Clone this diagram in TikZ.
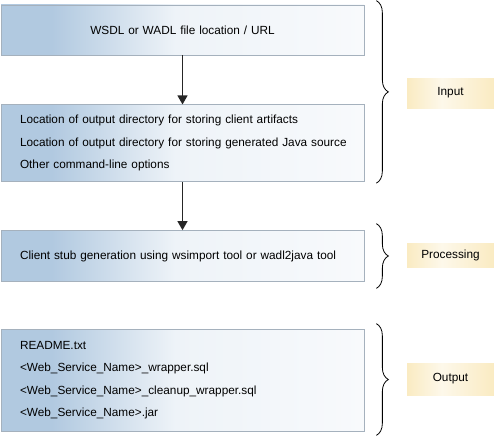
\documentclass[tikz,border=0pt]{standalone}
\usepackage{fontspec}
\setmainfont{Liberation Sans}
\usetikzlibrary{positioning,arrows.meta,decorations.pathreplacing}
\definecolor{boxblue}{HTML}{B1C9E0}
\definecolor{boxpale}{HTML}{EEF3F8}
\definecolor{boxwhite}{HTML}{F8FAFC}
\definecolor{boxline}{HTML}{A5B1BD}
\definecolor{tagside}{HTML}{FAEBC2}
\definecolor{tagmid}{HTML}{FDF8EA}
\pgfdeclarehorizontalshading{stepfade}{100bp}{color(0bp)=(boxblue); color(32bp)=(boxblue); color(49bp)=(boxpale); color(75bp)=(boxwhite); color(100bp)=(boxwhite)}
\pgfdeclarehorizontalshading{tagfade}{100bp}{color(0bp)=(tagside); color(25bp)=(tagside); color(45bp)=(tagmid); color(75bp)=(tagside); color(100bp)=(tagside)}

\begin{document}
\begin{tikzpicture}[x=1pt,y=-1pt,on grid,
   stepbox/.style={draw=boxline,line width=0.7pt,shading=stepfade,minimum width=363pt,text width=325pt,inner xsep=19pt,font=\fontsize{11.8}{22.5}\selectfont},
   tag/.style={shading=tagfade,minimum width=87pt,font=\fontsize{11.8}{14}\selectfont},
   flow/.style={draw=black!85,line width=1.2pt,-{Triangle[width=10pt,length=9pt]}},
   bracket/.style={decorate,decoration={brace,amplitude=12pt},line width=0.8pt}]
   \useasboundingbox (0,0) rectangle (494,436);
   \node[stepbox,align=center,minimum height=50pt] (wsdl) at (182.5,30) {WSDL or WADL file location / URL};
   \node[stepbox,align=left,minimum height=77pt] (opts) [below=113.3pt of wsdl] {Location of output directory for storing client artifacts\\
      \mbox{Location of output directory for storing generated Java source}\\
      Other command-line options};
   \node[stepbox,align=left,minimum height=51pt] (stub) [below=112.7pt of opts] {Client stub generation using wsimport tool or wadl2java tool};
   \node[stepbox,align=left,minimum height=102pt] (files) [below=124pt of stub] {README.txt\\
      <Web\_Service\_Name>\_wrapper.sql\\
      <Web\_Service\_Name>\_cleanup\_wrapper.sql\\
      <Web\_Service\_Name>.jar};

   \node[tag,minimum height=30pt] (input) at (450.5,93) {Input};
   \node[tag,minimum height=24pt] (proc) at (450.5,255) {Processing};
   \node[tag,minimum height=32pt] (output) at (450.5,379) {Output};

   \draw[flow] (wsdl) -- (opts);
   \draw[flow] (opts) -- (stub);

   \draw[bracket] ([xshift=12pt,yshift=4pt]wsdl.north east) -- ([xshift=12pt,yshift=-1pt]opts.south east);
   \draw[bracket] ([xshift=12pt,yshift=6.5pt]stub.north east) -- ([xshift=12pt,yshift=-6.5pt]stub.south east);
   \draw[bracket] ([xshift=12pt,yshift=5pt]files.north east) -- ([xshift=12pt,yshift=-4pt]files.south east);
\end{tikzpicture}
\end{document}
